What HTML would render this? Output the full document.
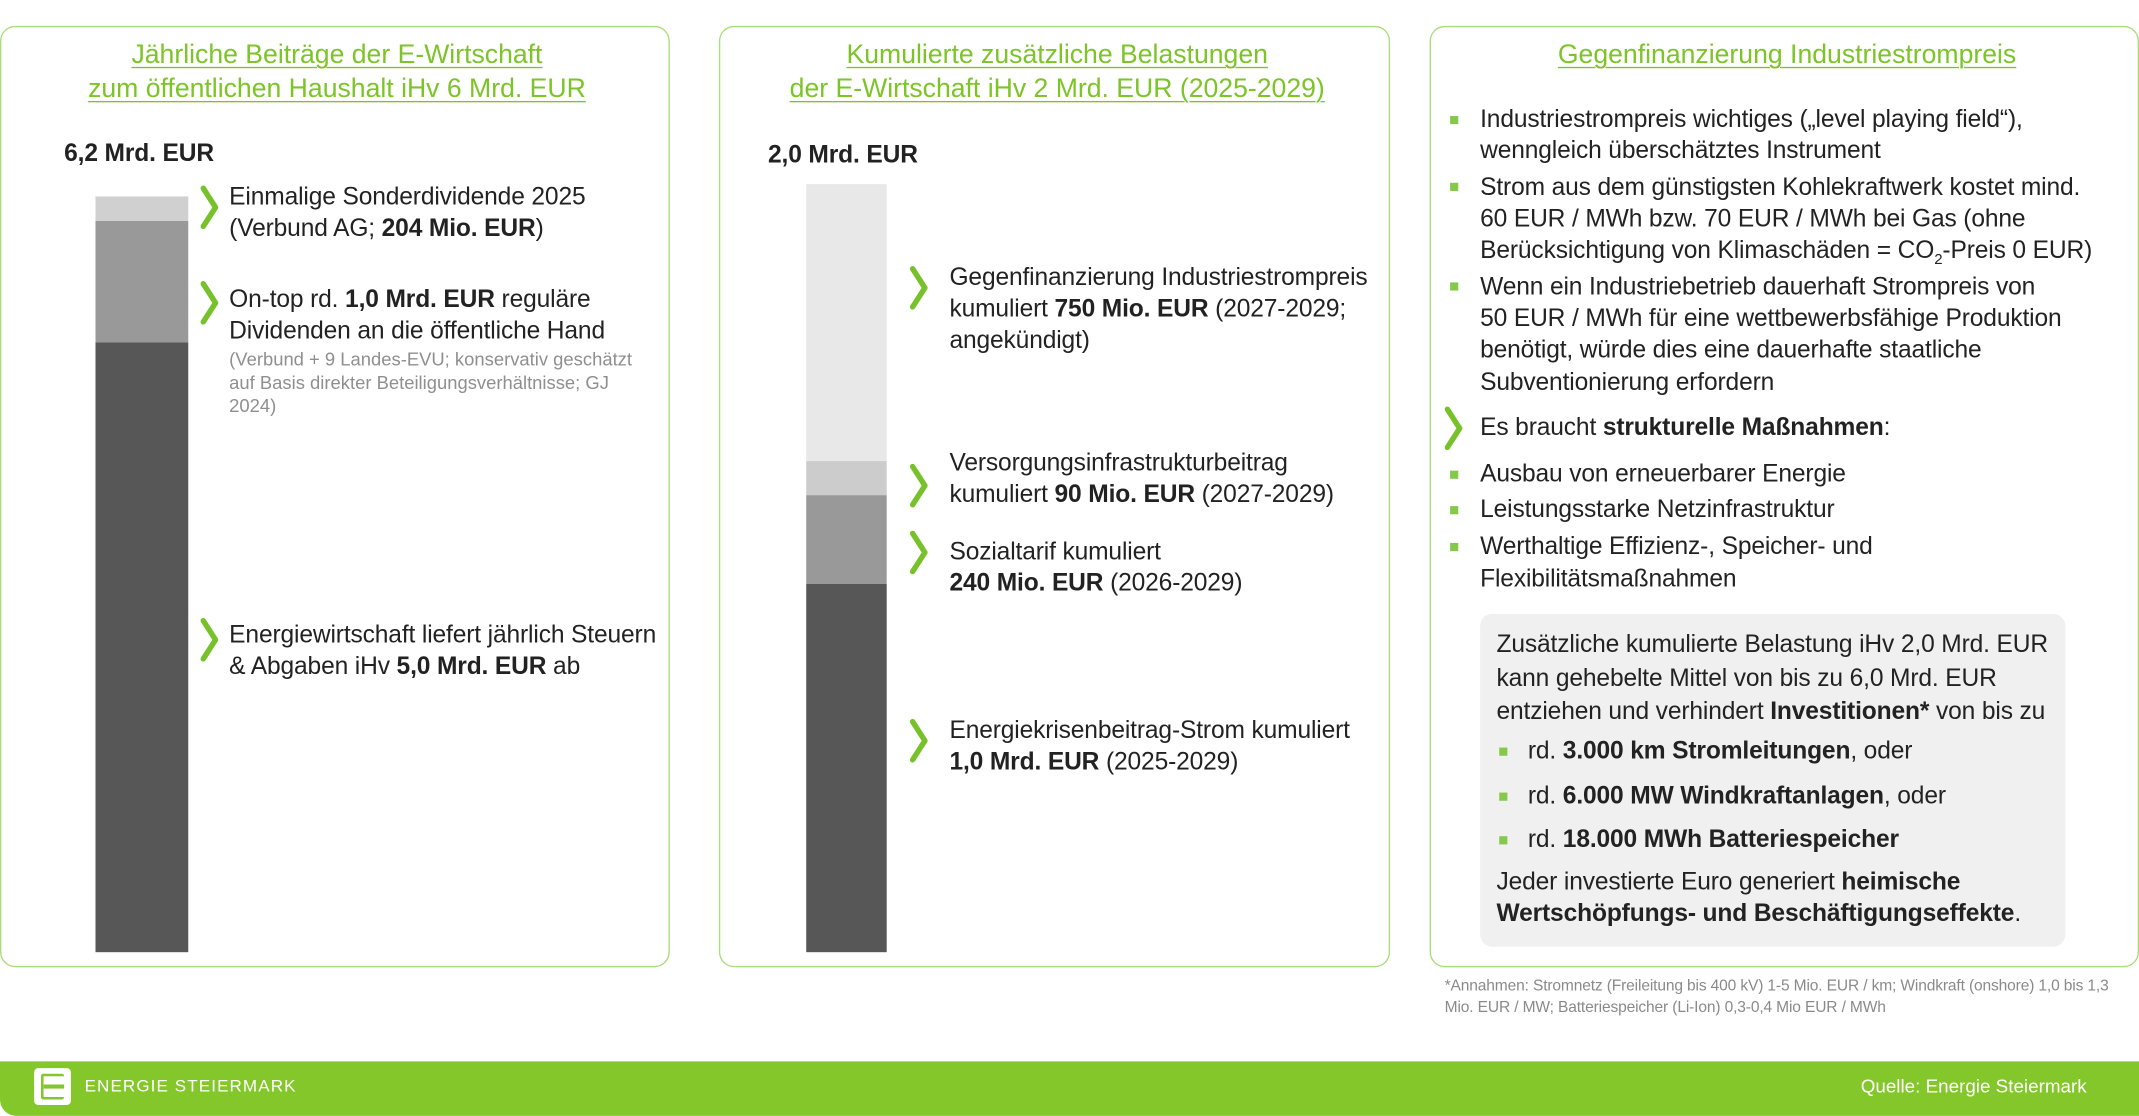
<!DOCTYPE html>
<html><head><meta charset="utf-8"><style>
html,body{margin:0;padding:0;background:#fff;width:2139px;height:1115px;overflow:hidden}
#s{position:absolute;left:0;top:0;width:1568px;height:818px;transform:scale(1.36416);transform-origin:0 0;font-family:"Liberation Sans",sans-serif;color:#222}
.p{position:absolute;border:1.3px solid #a9dc7a;border-radius:11px;box-sizing:border-box}
.t{position:absolute;white-space:nowrap;font-size:18px;line-height:23px;height:23px;letter-spacing:-0.1px}
.ti{position:absolute;white-space:nowrap;font-size:19.5px;line-height:25px;color:#7cc427;text-decoration:underline;text-decoration-thickness:1.3px;text-underline-offset:3px;transform:translateX(-50%);letter-spacing:0}
.g{color:#8f8f8f;font-size:13.5px;line-height:17px;height:17px;letter-spacing:0}
.sq{position:absolute;width:6px;height:6px;background:#86c94a}
.ch{position:absolute;width:14px;height:32px}
b{font-weight:bold}
.bar{position:absolute}
</style></head><body><div id="s">
<svg width="0" height="0" style="position:absolute"><defs><symbol id="c" viewBox="0 0 14 32"><polyline points="2,2 11,16 2,30" fill="none" stroke="#77c22a" stroke-width="4" stroke-linecap="round" stroke-linejoin="round"/></symbol></defs></svg>

<div class="p" style="left:0;top:19px;width:491px;height:690px"></div>
<div class="p" style="left:527px;top:19px;width:492px;height:690px"></div>
<div class="p" style="left:1048px;top:19px;width:520px;height:690px"></div>

<!-- Panel 1 -->
<div class="ti" style="left:247px;top:28px">Jährliche Beiträge der E-Wirtschaft</div>
<div class="ti" style="left:247px;top:53px">zum öffentlichen Haushalt iHv 6 Mrd. EUR</div>
<div class="t" style="left:47px;top:101px;font-weight:bold;font-size:18px">6,2 Mrd. EUR</div>
<div class="bar" style="left:70px;top:144px;width:68px;height:18px;background:#d0d0d0"></div>
<div class="bar" style="left:70px;top:162px;width:68px;height:89px;background:#999"></div>
<div class="bar" style="left:70px;top:251px;width:68px;height:447px;background:#575757"></div>
<svg class="ch" style="left:147px;top:136px"><use href="#c"/></svg>
<div class="t" style="left:168px;top:133px">Einmalige Sonderdividende 2025</div>
<div class="t" style="left:168px;top:156px">(Verbund AG; <b>204 Mio. EUR</b>)</div>
<svg class="ch" style="left:147px;top:206px"><use href="#c"/></svg>
<div class="t" style="left:168px;top:208px">On-top rd. <b>1,0 Mrd. EUR</b> reguläre</div>
<div class="t" style="left:168px;top:231px">Dividenden an die öffentliche Hand</div>
<div class="t g" style="left:168px;top:255px">(Verbund + 9 Landes-EVU; konservativ geschätzt</div>
<div class="t g" style="left:168px;top:272px">auf Basis direkter Beteiligungsverhältnisse; GJ</div>
<div class="t g" style="left:168px;top:289px">2024)</div>
<svg class="ch" style="left:147px;top:453px"><use href="#c"/></svg>
<div class="t" style="left:168px;top:454px">Energiewirtschaft liefert jährlich Steuern</div>
<div class="t" style="left:168px;top:477px">&amp; Abgaben iHv <b>5,0 Mrd. EUR</b> ab</div>

<!-- Panel 2 -->
<div class="ti" style="left:775px;top:28px">Kumulierte zusätzliche Belastungen</div>
<div class="ti" style="left:775px;top:53px">der E-Wirtschaft iHv 2 Mrd. EUR (2025-2029)</div>
<div class="t" style="left:563px;top:102px;font-weight:bold;font-size:18px">2,0 Mrd. EUR</div>
<div class="bar" style="left:591px;top:135px;width:59px;height:203px;background:#e8e8e8"></div>
<div class="bar" style="left:591px;top:338px;width:59px;height:25px;background:#cccccc"></div>
<div class="bar" style="left:591px;top:363px;width:59px;height:65px;background:#999"></div>
<div class="bar" style="left:591px;top:428px;width:59px;height:270px;background:#575757"></div>
<svg class="ch" style="left:667px;top:195px"><use href="#c"/></svg>
<div class="t" style="left:696px;top:192px">Gegenfinanzierung Industriestrompreis</div>
<div class="t" style="left:696px;top:215px">kumuliert <b>750 Mio. EUR</b> (2027-2029;</div>
<div class="t" style="left:696px;top:238px">angekündigt)</div>
<svg class="ch" style="left:667px;top:340px"><use href="#c"/></svg>
<div class="t" style="left:696px;top:328px">Versorgungsinfrastrukturbeitrag</div>
<div class="t" style="left:696px;top:351px">kumuliert <b>90 Mio. EUR</b> (2027-2029)</div>
<svg class="ch" style="left:667px;top:389px"><use href="#c"/></svg>
<div class="t" style="left:696px;top:393px">Sozialtarif kumuliert</div>
<div class="t" style="left:696px;top:416px"><b>240 Mio. EUR</b> (2026-2029)</div>
<svg class="ch" style="left:667px;top:527px"><use href="#c"/></svg>
<div class="t" style="left:696px;top:524px">Energiekrisenbeitrag-Strom kumuliert</div>
<div class="t" style="left:696px;top:547px"><b>1,0 Mrd. EUR</b> (2025-2029)</div>

<!-- Panel 3 -->
<div class="ti" style="left:1310px;top:28px">Gegenfinanzierung Industriestrompreis</div>
<div class="sq" style="left:1063px;top:85px"></div>
<div class="t" style="left:1085px;top:76px">Industriestrompreis wichtiges („level playing field“),</div>
<div class="t" style="left:1085px;top:99px">wenngleich überschätztes Instrument</div>
<div class="sq" style="left:1063px;top:134px"></div>
<div class="t" style="left:1085px;top:126px">Strom aus dem günstigsten Kohlekraftwerk kostet mind.</div>
<div class="t" style="left:1085px;top:149px">60 EUR / MWh bzw. 70 EUR / MWh bei Gas (ohne</div>
<div class="t" style="left:1085px;top:172px">Berücksichtigung von Klimaschäden = CO<sub style="font-size:11px;line-height:0">2</sub>-Preis 0 EUR)</div>
<div class="sq" style="left:1063px;top:207px"></div>
<div class="t" style="left:1085px;top:199px">Wenn ein Industriebetrieb dauerhaft Strompreis von</div>
<div class="t" style="left:1085px;top:222px">50 EUR / MWh für eine wettbewerbsfähige Produktion</div>
<div class="t" style="left:1085px;top:245px">benötigt, würde dies eine dauerhafte staatliche</div>
<div class="t" style="left:1085px;top:269px">Subventionierung erfordern</div>
<svg class="ch" style="left:1059px;top:298px"><use href="#c"/></svg>
<div class="t" style="left:1085px;top:302px">Es braucht <b>strukturelle Maßnahmen</b>:</div>
<div class="sq" style="left:1063px;top:345px"></div>
<div class="t" style="left:1085px;top:336px">Ausbau von erneuerbarer Energie</div>
<div class="sq" style="left:1063px;top:371px"></div>
<div class="t" style="left:1085px;top:362px">Leistungsstarke Netzinfrastruktur</div>
<div class="sq" style="left:1063px;top:398px"></div>
<div class="t" style="left:1085px;top:389px">Werthaltige Effizienz-, Speicher- und</div>
<div class="t" style="left:1085px;top:413px">Flexibilitätsmaßnahmen</div>

<div style="position:absolute;left:1085px;top:450px;width:429px;height:244px;background:#f0f0f0;border-radius:9px"></div>
<div class="t" style="left:1097px;top:461px">Zusätzliche kumulierte Belastung iHv 2,0 Mrd. EUR</div>
<div class="t" style="left:1097px;top:486px">kann gehebelte Mittel von bis zu 6,0 Mrd. EUR</div>
<div class="t" style="left:1097px;top:510px">entziehen und verhindert <b>Investitionen*</b> von bis zu</div>
<div class="sq" style="left:1099px;top:548px"></div>
<div class="t" style="left:1120px;top:539px">rd. <b>3.000 km Stromleitungen</b>, oder</div>
<div class="sq" style="left:1099px;top:581px"></div>
<div class="t" style="left:1120px;top:572px">rd. <b>6.000 MW Windkraftanlagen</b>, oder</div>
<div class="sq" style="left:1099px;top:613px"></div>
<div class="t" style="left:1120px;top:604px">rd. <b>18.000 MWh Batteriespeicher</b></div>
<div class="t" style="left:1097px;top:635px">Jeder investierte Euro generiert <b>heimische</b></div>
<div class="t" style="left:1097px;top:658px"><b>Wertschöpfungs- und Beschäftigungseffekte</b>.</div>

<div class="t g" style="left:1059px;top:715px;font-size:11.4px;letter-spacing:-0.1px;color:#8a8a8a">*Annahmen: Stromnetz (Freileitung bis 400 kV) 1-5 Mio. EUR / km; Windkraft (onshore) 1,0 bis 1,3</div>
<div class="t g" style="left:1059px;top:731px;font-size:11.4px;letter-spacing:-0.1px;color:#8a8a8a">Mio. EUR / MW; Batteriespeicher (Li-Ion) 0,3-0,4 Mio EUR / MWh</div>

<!-- Footer -->
<div style="position:absolute;left:0;top:778px;width:1568px;height:40px;background:#84c72b;border-bottom-left-radius:12px"></div>
<div style="position:absolute;left:25px;top:783px;width:27px;height:27px;background:#fff;border-radius:3px"></div>
<div style="position:absolute;left:30px;top:787px;width:17px;height:19px;border:2.5px solid #84c72b;border-right:none;box-sizing:border-box;border-radius:2px"></div>
<div style="position:absolute;left:32px;top:795px;width:15px;height:2.5px;background:#84c72b"></div>
<div class="t" style="left:62px;top:785px;color:#fff;font-size:12.5px;letter-spacing:0.8px">ENERGIE STEIERMARK</div>
<div class="t" style="left:1364px;top:785px;color:#fff;font-size:13.8px;letter-spacing:0">Quelle: Energie Steiermark</div>
</div></body></html>
